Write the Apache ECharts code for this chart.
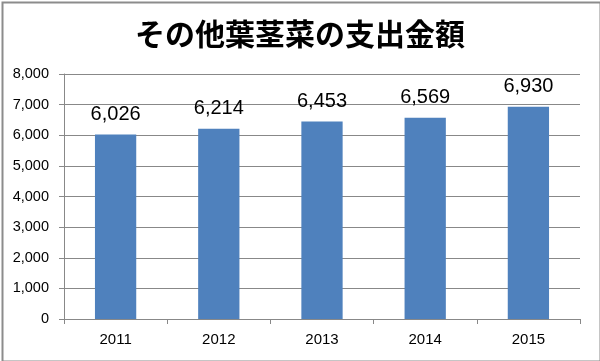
<!DOCTYPE html>
<html><head><meta charset="utf-8">
<script src="https://cdn.jsdelivr.net/npm/echarts@6/dist/echarts.min.js"></script>
<style>html,body{margin:0;padding:0;background:#fff}#c{width:600px;height:361px}</style>
</head><body><div id="c"></div>
<script>
const titleText = 'その他葉茎菜の支出金額';
const categories = ['2011','2012','2013','2014','2015'];
const values = [6026, 6214, 6453, 6569, 6930];
const chart = echarts.init(document.getElementById('c'), null, {renderer:'canvas'});
const fmt = v => Number(v).toLocaleString('en-US');
chart.setOption({
  animation:false,
  backgroundColor:'#fff',
  graphic:[{type:'rect',left:0,top:0,shape:{x:1,y:1,width:598,height:359},style:{fill:'none',stroke:'#8c8c8c',lineWidth:2},silent:true}],
  title:{text:titleText,left:'center',top:14,textStyle:{fontFamily:'"Noto Sans CJK JP"',fontSize:30,fontWeight:'bold',color:'#000'}},
  grid:{left:64,right:20,top:74,bottom:42},
  xAxis:{type:'category',data:categories,
    axisLine:{lineStyle:{color:'#888',width:1}},
    axisTick:{show:true,alignWithLabel:false,length:5,lineStyle:{color:'#888'}},
    axisLabel:{fontFamily:'"Liberation Sans", Arial',fontSize:15,color:'#000',margin:13}},
  yAxis:{type:'value',min:0,max:8000,interval:1000,
    axisLine:{show:true,lineStyle:{color:'#888'}},
    axisTick:{show:true,length:5,lineStyle:{color:'#888'}},
    splitLine:{lineStyle:{color:'#888',width:1}},
    axisLabel:{fontFamily:'"Liberation Sans", Arial',fontSize:14.5,color:'#000',margin:15,formatter:fmt}},
  series:[{type:'bar',data:values,barWidth:'40%',itemStyle:{color:'#4F81BD'},
    label:{show:true,position:'top',distance:10,fontFamily:'"Liberation Sans", Arial',fontSize:20,color:'#000',formatter:p=>fmt(p.value)}}]
});
</script></body></html>
